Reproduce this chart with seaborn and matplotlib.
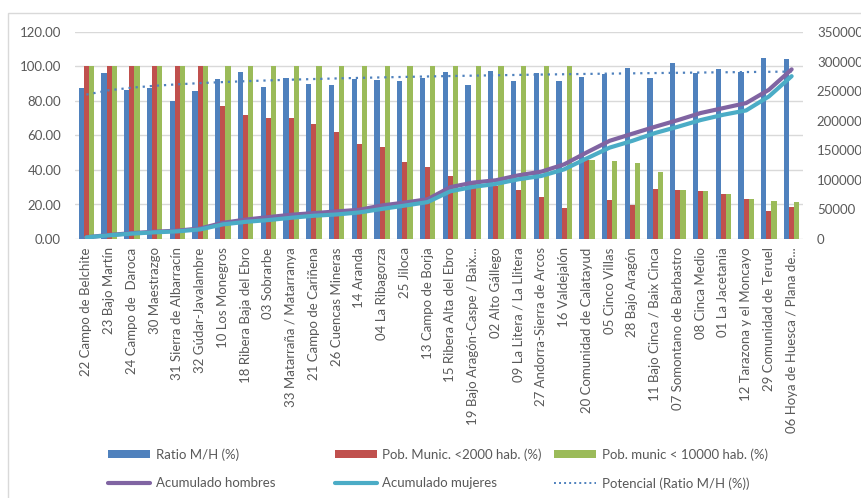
import numpy as np
import pandas as pd
import matplotlib
matplotlib.use("Agg")
import matplotlib.pyplot as plt
from matplotlib.patches import Rectangle, Patch
from matplotlib.lines import Line2D
import seaborn as sns

# ---- data -------------------------------------------------------------
comarcas = [
    "22 Campo de Belchite", "23 Bajo Martín", "24 Campo de  Daroca",
    "30 Maestrazgo", "31 Sierra de Albarracín", "32 Gúdar-Javalambre",
    "10 Los Monegros", "18 Ribera Baja del Ebro", "03 Sobrarbe",
    "33 Matarraña / Matarranya", "21 Campo de Cariñena", "26 Cuencas Mineras",
    "14 Aranda", "04 La Ribagorza", "25 Jiloca", "13 Campo de Borja",
    "15 Ribera Alta del Ebro", "19 Bajo Aragón-Caspe / Baix...",
    "02 Alto Gállego", "09 La Litera / La Llitera",
    "27 Andorra-Sierra de Arcos", "16 Valdejalón",
    "20 Comunidad de Calatayud", "05 Cinco Villas", "28 Bajo Aragón",
    "11 Bajo Cinca / Baix Cinca", "07 Somontano de Barbastro",
    "08 Cinca Medio", "01 La Jacetania", "12 Tarazona y el Moncayo",
    "29 Comunidad de Teruel", "06 Hoya de Huesca / Plana de...",
]

ratio_mh = [87.5, 96.2, 86.2, 87.3, 80.0, 86.0, 92.5, 96.7, 88.3, 93.3,
            89.6, 89.1, 92.8, 92.2, 91.8, 93.2, 96.9, 89.1, 97.4, 91.8,
            96.4, 91.8, 94.1, 95.7, 99.3, 93.4, 101.8, 96.4, 98.7, 96.8,
            104.9, 104.3]

pob_2000 = [100, 100, 100, 100, 100, 100, 77.3, 72.1, 70.1, 70.0,
            66.4, 62.3, 55.0, 53.6, 44.4, 41.5, 36.4, 33.5, 30.5, 28.5,
            24.3, 18.0, 45.9, 22.6, 19.6, 29.1, 28.2, 27.7, 26.2, 23.4,
            16.5, 18.4]

pob_10000 = [100] * 22 + [45.9, 45.2, 44.0, 38.9, 28.2, 27.7, 26.2, 23.4,
                          22.2, 21.6]

acum_hombres = [2900, 6800, 9900, 12300, 14100, 17800, 27300, 32800, 37000,
                41000, 43800, 46600, 49400, 56800, 61600, 67200, 87700,
                95400, 99300, 107700, 113900, 126200, 146500, 166000,
                178000, 189800, 201000, 213000, 221400, 229800, 252300,
                286800]

acum_mujeres = [2700, 6200, 9100, 11300, 12900, 16200, 24700, 29000, 32000,
                35900, 39300, 41500, 44900, 50900, 56500, 62400, 80700,
                88100, 93100, 101000, 106600, 117800, 136400, 154500,
                166000, 179200, 189800, 201100, 210100, 217400, 241000,
                275300]

bar_series = ["Ratio M/H (%)", "Pob. Munic. <2000 hab. (%)",
              "Pob. munic < 10000 hab. (%)"]

# ---- styling ----------------------------------------------------------
sns.set_style("white")
plt.rcParams["font.family"] = ["Lato", "DejaVu Sans"]
TXT = "#595959"
GRID = "#D9D9D9"
C_BLUE, C_RED, C_GREEN = "#4F81BD", "#C0504D", "#9BBB59"
C_PURPLE, C_CYAN = "#8064A2", "#4BACC6"
FS = 9.5

df = pd.DataFrame({
    "comarca": comarcas * 3,
    "serie": sum([[s] * len(comarcas) for s in bar_series], []),
    "valor": ratio_mh + pob_2000 + pob_10000,
})

fig = plt.figure(figsize=(8.61, 4.98), dpi=100)
W, H = 861, 498
ax = fig.add_axes([75 / W, 1 - 239 / H, (803 - 75) / W, (239 - 32) / H])

sns.barplot(data=df, x="comarca", y="valor", hue="serie",
            palette=[C_BLUE, C_RED, C_GREEN], width=0.68, gap=0,
            saturation=1, linewidth=0, ax=ax, legend=False, zorder=2)

# power trendline of the ratio (Excel "Potencial")
xs = np.arange(1, len(ratio_mh) + 1)
b, log_a = np.polyfit(np.log(xs), np.log(ratio_mh), 1)
trend = np.exp(log_a) * xs ** b
ax.plot(xs - 1, trend, color=C_BLUE, lw=1.6, ls=(0, (1, 2.2)), zorder=3)

ax.set_xlim(-0.5, len(comarcas) - 0.5)
ax.set_ylim(0, 120)
ax.set_yticks(np.arange(0, 121, 20))
ax.set_yticklabels([f"{v:.2f}" for v in np.arange(0, 121, 20)])
ax.yaxis.grid(True, color=GRID, lw=1)
ax.set_axisbelow(True)
ax.set_xlabel("")
ax.set_ylabel("")
ax.tick_params(axis="y", length=0, pad=10, labelsize=FS, labelcolor=TXT)
ax.tick_params(axis="x", length=0, pad=6, labelsize=FS, labelcolor=TXT)
ax.set_xticks(range(len(comarcas)))
ax.set_xticklabels(comarcas, rotation=90)
for s in ax.spines.values():
    s.set_visible(False)

# cumulative population on secondary axis
ax2 = ax.twinx()
pos = np.arange(len(comarcas))
sns.lineplot(x=pos, y=acum_hombres, ax=ax2, color=C_PURPLE, lw=3.0)
sns.lineplot(x=pos, y=acum_mujeres, ax=ax2, color=C_CYAN, lw=3.0)
ax2.set_ylim(0, 350000)
ax2.set_yticks(np.arange(0, 350001, 50000))
ax2.set_yticklabels([f"{int(v)}" for v in np.arange(0, 350001, 50000)])
ax2.tick_params(axis="y", length=0, pad=10, labelsize=FS, labelcolor=TXT)
ax2.grid(False)
for s in ax2.spines.values():
    s.set_visible(False)

# chart-area border
fig.add_artist(Rectangle((8 / W, -0.05), 1.1, 1 - 13 / H + 0.05,
                         transform=fig.transFigure, fill=False,
                         edgecolor=GRID, lw=1))

# legend in three columns
cols = [
    (108, [Patch(facecolor=C_BLUE, lw=0), Line2D([], [], color=C_PURPLE, lw=3)],
     ["Ratio M/H (%)", "Acumulado hombres"]),
    (335, [Patch(facecolor=C_RED, lw=0), Line2D([], [], color=C_CYAN, lw=3)],
     ["Pob. Munic. <2000 hab. (%)", "Acumulado mujeres"]),
    (554, [Patch(facecolor=C_GREEN, lw=0),
           Line2D([], [], color=C_BLUE, lw=1.4, ls=(0, (1, 1.6)))],
     ["Pob. munic < 10000 hab. (%)", "Potencial (Ratio M/H (%))"]),
]
for x0, handles, labels in cols:
    leg = fig.legend(handles, labels, loc="upper left",
                     bbox_to_anchor=(x0 / W, 1 - 448 / H),
                     frameon=False, fontsize=FS, handlelength=3.2,
                     handleheight=0.55, handletextpad=0.4,
                     labelspacing=1.25, borderaxespad=0, borderpad=0)
    for t in leg.get_texts():
        t.set_color(TXT)

fig.savefig("out.png", dpi=100)
